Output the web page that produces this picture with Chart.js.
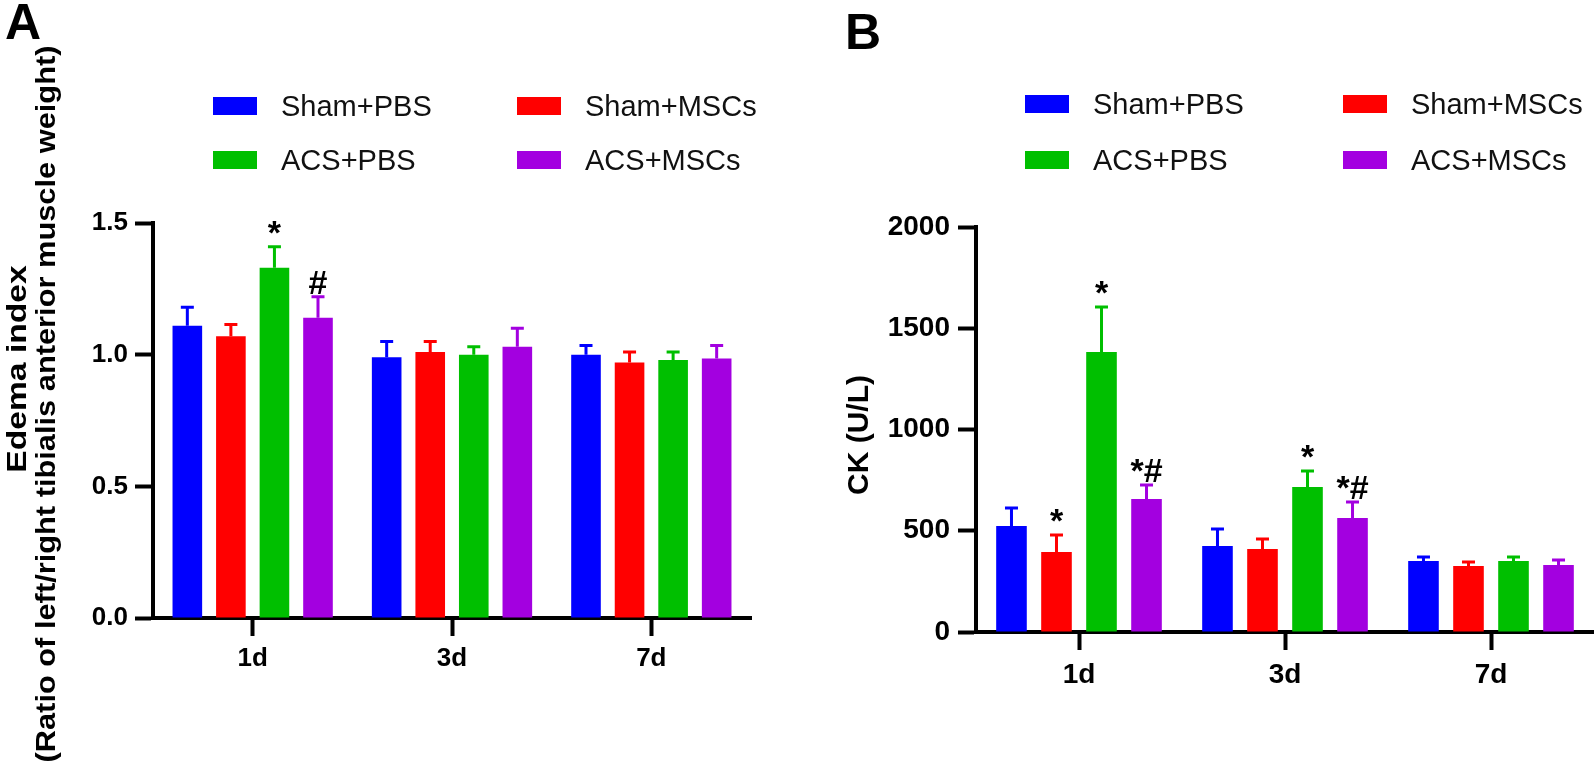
<!DOCTYPE html>
<html>
<head>
<meta charset="utf-8">
<script src="https://cdn.jsdelivr.net/npm/chart.js@4.4.0/dist/chart.umd.min.js"></script>
<style>
    body { margin: 0; background: #fff; font-family: "Liberation Sans", Arial, sans-serif; }
    #page { position: relative; width: 1594px; height: 764px; overflow: hidden; }
    .panel-label { position: absolute; font-weight: bold; font-size: 50px; line-height: 50px; color: #000; }
    canvas { position: absolute; top: 0; }
    .legend-item { position: absolute; display: flex; align-items: center; height: 30px; font-size: 29px; color: #111; white-space: nowrap; }
    .legend-swatch { width: 44px; height: 18px; margin-right: 24px; }
</style>
</head>
<body>
<div id="page">
    <div class="panel-label" style="left:5px; top:-3px;">A</div>
    <div class="panel-label" style="left:845px; top:7px;">B</div>
    <canvas id="chartA" width="790" height="764" style="left:0px;"></canvas>
    <canvas id="chartB" width="794" height="764" style="left:800px;"></canvas>
</div>
<script>
// Catégories et séries
const days = ["1d", "3d", "7d"];
const groups = ["Sham+PBS", "Sham+MSCs", "ACS+PBS", "ACS+MSCs"];
const colors = ["#0000ff", "#ff0000", "#00bf00", "#a300e0"];

// Panneau A : indice d'oedème
const edemaShamPbs = [1.11, 0.99, 1.00];
const edemaShamMsc = [1.07, 1.01, 0.97];
const edemaAcsPbs = [1.33, 1.00, 0.98];
const edemaAcsMsc = [1.14, 1.03, 0.985];
const edemaErrShamPbs = [0.07, 0.06, 0.035];
const edemaErrShamMsc = [0.045, 0.04, 0.04];
const edemaErrAcsPbs = [0.08, 0.03, 0.03];
const edemaErrAcsMsc = [0.08, 0.07, 0.05];
const edemaSigShamPbs = ["", "", ""];
const edemaSigShamMsc = ["", "", ""];
const edemaSigAcsPbs = ["*", "", ""];
const edemaSigAcsMsc = ["#", "", ""];
const edemaTicks = [0, 0.5, 1.0, 1.5];

// Panneau B : CK (U/L)
const ckShamPbs = [523, 425, 351];
const ckShamMsc = [395, 410, 326];
const ckAcsPbs = [1383, 716, 351];
const ckAcsMsc = [657, 563, 331];
const ckErrShamPbs = [89, 84, 19];
const ckErrShamMsc = [84, 49, 20];
const ckErrAcsPbs = [222, 79, 19];
const ckErrAcsMsc = [69, 79, 24];
const ckSigShamPbs = ["", "", ""];
const ckSigShamMsc = ["*", "", ""];
const ckSigAcsPbs = ["*", "*", ""];
const ckSigAcsMsc = ["*#", "*#", ""];
const ckTicks = [0, 500, 1000, 1500, 2000];

const FONT = "'Liberation Sans', Arial, sans-serif";

// Barres d'erreur (SEM vers le haut) et marques de significativité
const errorBars = {
    id: "errorBars",
    afterDatasetsDraw(chart) {
        const ctx = chart.ctx;
        const y = chart.scales.y;
        chart.data.datasets.forEach((ds, i) => {
            const meta = chart.getDatasetMeta(i);
            meta.data.forEach((bar, j) => {
                const top = y.getPixelForValue(ds.data[j] + ds.errors[j]);
                ctx.save();
                ctx.strokeStyle = ds.backgroundColor;
                ctx.lineWidth = 3;
                ctx.beginPath();
                ctx.moveTo(bar.x, bar.y);
                ctx.lineTo(bar.x, top);
                ctx.moveTo(bar.x - 6.5, top);
                ctx.lineTo(bar.x + 6.5, top);
                ctx.stroke();
                if (ds.marks[j]) {
                    ctx.fillStyle = "#000";
                    ctx.font = "bold 34px " + FONT;
                    ctx.textAlign = "center";
                    ctx.textBaseline = "alphabetic";
                    ctx.fillText(ds.marks[j], bar.x, top - 3);
                }
                ctx.restore();
            });
        });
    }
};

// Titre de l'axe Y dessiné à la main (lignes centrées séparément)
const yTitle = {
    id: "yTitle",
    afterDraw(chart, args, opts) {
        const ctx = chart.ctx;
        ctx.save();
        ctx.fillStyle = "#000";
        ctx.textAlign = "center";
        ctx.textBaseline = "middle";
        opts.lines.forEach(line => {
            ctx.save();
            ctx.font = "bold " + line.size + "px " + FONT;
            ctx.translate(line.x, line.y);
            ctx.rotate(-Math.PI / 2);
            ctx.scale(line.stretch, 1);
            ctx.fillText(line.text, 0, 0);
            ctx.restore();
        });
        ctx.restore();
    }
};

function buildLegend(left1, left2, row1, row2) {
    const page = document.getElementById("page");
    const pos = [[left1, row1], [left2, row1], [left1, row2], [left2, row2]];
    groups.forEach((name, i) => {
        const item = document.createElement("div");
        item.className = "legend-item";
        item.style.left = pos[i][0] + "px";
        item.style.top = (pos[i][1] - 15) + "px";
        const sw = document.createElement("span");
        sw.className = "legend-swatch";
        sw.style.background = colors[i];
        item.appendChild(sw);
        item.appendChild(document.createTextNode(name));
        page.appendChild(item);
    });
}

function makeChart(id, cfg) {
    const datasets = cfg.values.map((vals, i) => ({
        label: groups[i],
        data: vals,
        errors: cfg.errors[i],
        marks: cfg.marks[i],
        backgroundColor: colors[i],
        borderWidth: 0,
        categoryPercentage: 0.874,
        barPercentage: 0.68,
    }));
    const tickFont = { family: FONT, size: cfg.tickSize, weight: "bold" };
    return new Chart(document.getElementById(id), {
        type: "bar",
        data: { labels: days, datasets: datasets },
        plugins: [errorBars, yTitle],
        options: {
            responsive: false,
            animation: false,
            devicePixelRatio: 1,
            layout: { padding: { top: cfg.top, right: cfg.right, left: 0, bottom: 0 } },
            plugins: {
                legend: { display: false },
                tooltip: { enabled: false },
                yTitle: { lines: cfg.titleLines },
            },
            scales: {
                x: {
                    afterFit: s => { s.height = cfg.xHeight; },
                    ticks: { font: tickFont, color: "#000", padding: cfg.xPad },
                    grid: { offset: false, drawOnChartArea: false, tickLength: 18, tickWidth: 4, tickColor: "#000" },
                    border: { color: "#000", width: 4 },
                },
                y: {
                    min: cfg.ticks[0],
                    max: cfg.ticks[cfg.ticks.length - 1],
                    afterFit: s => { s.width = cfg.yWidth; },
                    afterBuildTicks: s => { s.ticks = cfg.ticks.map(v => ({ value: v })); },
                    ticks: { font: tickFont, color: "#000", padding: cfg.yPad, callback: cfg.fmt },
                    grid: { drawOnChartArea: false, tickLength: 18, tickWidth: 4, tickColor: "#000" },
                    border: { color: "#000", width: 4 },
                },
            },
        },
    });
}

makeChart("chartA", {
    values: [edemaShamPbs, edemaShamMsc, edemaAcsPbs, edemaAcsMsc],
    errors: [edemaErrShamPbs, edemaErrShamMsc, edemaErrAcsPbs, edemaErrAcsMsc],
    marks: [edemaSigShamPbs, edemaSigShamMsc, edemaSigAcsPbs, edemaSigAcsMsc],
    ticks: edemaTicks,
    fmt: v => Number(v).toFixed(1),
    tickSize: 26,
    top: 223, right: 39, yWidth: 153, xHeight: 146, xPad: 7, yPad: 7,
    titleLines: [
        { text: "Edema index", x: 18, y: 369, size: 28, stretch: 1.2 },
        { text: "(Ratio of left/right tibialis anterior muscle weight)", x: 47, y: 404, size: 28, stretch: 1.1 },
    ],
});

makeChart("chartB", {
    values: [ckShamPbs, ckShamMsc, ckAcsPbs, ckAcsMsc],
    errors: [ckErrShamPbs, ckErrShamMsc, ckErrAcsPbs, ckErrAcsMsc],
    marks: [ckSigShamPbs, ckSigShamMsc, ckSigAcsPbs, ckSigAcsMsc],
    ticks: ckTicks,
    fmt: v => String(v),
    tickSize: 28,
    top: 227, right: 0, yWidth: 176, xHeight: 132, xPad: 8, yPad: 8,
    titleLines: [
        { text: "CK (U/L)", x: 60, y: 435, size: 30, stretch: 1.0 },
    ],
});

buildLegend(213, 517, 106, 160);
buildLegend(1025, 1343, 104, 160);
</script>
</body>
</html>
